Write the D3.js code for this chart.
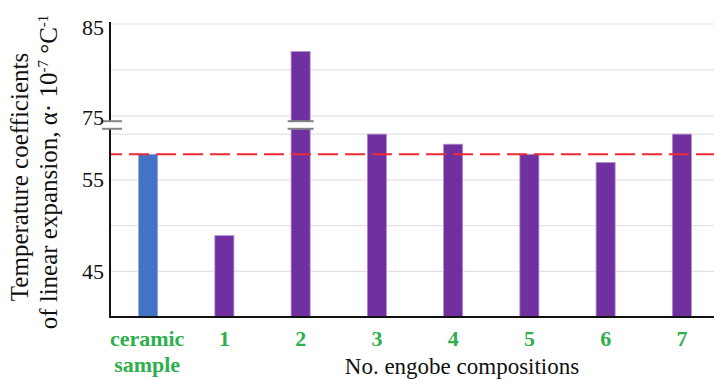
<!DOCTYPE html>
<html><head><meta charset="utf-8">
<script src="https://cdn.jsdelivr.net/npm/d3@7"></script>
<style>body{margin:0;background:#fff}svg{display:block}svg text{font-family:"Liberation Serif","Times New Roman",serif}</style>
</head><body>
<svg id="chart" width="714" height="380"></svg>
<script>
const categories = ["ceramic sample", "1", "2", "3", "4", "5", "6", "7"];
const values = [57.8, 48.9, 82.0, 60.0, 58.9, 57.8, 56.9, 60.0];
const referenceValue = 57.8;
const tickValues = [45, 55, 75, 85];
const gridValues = [45, 50, 55, 60, 75, 80, 85];
const breakDomain = [61, 74];

(function () {
const svg = d3.select("#chart");
const mLeft = 110, mRight = 720, mTop = 24, mBottom = 317, yBreak = 125;

const x = d3.scaleBand().domain(categories).range([mLeft, mRight])
  .paddingInner(0.75).paddingOuter(0.375);
const y = d3.scaleLinear()
  .domain([40, breakDomain[0], breakDomain[1], 85])
  .range([mBottom, yBreak, yBreak, mTop]);

// gridlines
svg.append("g").selectAll("line").data(gridValues).join("line")
  .attr("x1", mLeft).attr("x2", 714)
  .attr("y1", d => y(d)).attr("y2", d => y(d))
  .attr("stroke", "#e3e3e3").attr("stroke-width", 1.2);

// bars
svg.append("g").selectAll("rect").data(values).join("rect")
  .attr("x", (d, i) => x(categories[i]))
  .attr("width", x.bandwidth())
  .attr("y", d => y(d))
  .attr("height", d => mBottom - y(d))
  .attr("fill", (d, i) => i === 0 ? "#4472c4" : "#7030a0")
  .attr("stroke", (d, i) => i === 0 ? "#8fa9dc" : "#b48fd0")
  .attr("stroke-width", 0.8);

// reference dashed line
svg.append("line")
  .attr("x1", mLeft).attr("x2", 714)
  .attr("y1", y(referenceValue)).attr("y2", y(referenceValue))
  .attr("stroke", "#ee2a35").attr("stroke-width", 2)
  .attr("stroke-dasharray", "20,7").attr("stroke-dashoffset", 8);

// y axis line
svg.append("line").attr("x1", mLeft).attr("x2", mLeft)
  .attr("y1", 22).attr("y2", mBottom + 1)
  .attr("stroke", "#111").attr("stroke-width", 2);
// x axis line
svg.append("line").attr("x1", mLeft - 1).attr("x2", 714)
  .attr("y1", mBottom).attr("y2", mBottom)
  .attr("stroke", "#111").attr("stroke-width", 2);

// break marks
function breakMark(cx, halfW) {
  svg.append("rect").attr("x", cx - halfW).attr("width", halfW * 2)
    .attr("y", yBreak - 3).attr("height", 6).attr("fill", "#fff");
  [yBreak - 3.8, yBreak + 3.8].forEach(yy => {
    svg.append("line").attr("x1", cx - halfW).attr("x2", cx + halfW)
      .attr("y1", yy).attr("y2", yy)
      .attr("stroke", "#858585").attr("stroke-width", 2);
  });
}
breakMark(mLeft + 2, 10);
breakMark(x("2") + x.bandwidth() / 2, 13);

// y tick labels
svg.append("g").selectAll("text").data(tickValues).join("text")
  .attr("x", 104).attr("y", d => y(d) + (d === 85 ? 3 : d === 75 ? 2 : 0))
  .attr("text-anchor", "end").attr("dominant-baseline", "central")
  .attr("font-size", 22).attr("fill", "#111")
  .text(d => d);

// x tick labels
const xl = svg.append("g").attr("font-size", 22)
  .attr("font-weight", "bold").attr("fill", "#2db04d").attr("text-anchor", "middle");
categories.forEach(c => {
  const cx = x(c) + x.bandwidth() / 2;
  const parts = c.split(" ");
  parts.forEach((p, j) => {
    xl.append("text").attr("x", cx - (parts.length > 1 ? 1 : 0)).attr("y", 346 + j * 26).text(p);
  });
});

// x axis title
svg.append("text").attr("x", 462).attr("y", 374)
  .attr("text-anchor", "middle")
  .attr("font-size", 23).attr("fill", "#111")
  .text("No. engobe compositions");

// y axis title
const yt = svg.append("g").attr("font-size", 25)
  .attr("fill", "#111").attr("text-anchor", "middle");
yt.append("text").attr("transform", "translate(28,177) rotate(-90)")
  .text("Temperature coefficients");
const t2 = yt.append("text").attr("transform", "translate(57,172) rotate(-90)");
t2.append("tspan").text("of linear expansion, α· 10");
t2.append("tspan").attr("dy", -9).attr("font-size", 15).text("-7");
t2.append("tspan").attr("dy", 9).text(" °C");
t2.append("tspan").attr("dy", -9).attr("font-size", 15).text("-1");
})();
</script>
</body></html>
